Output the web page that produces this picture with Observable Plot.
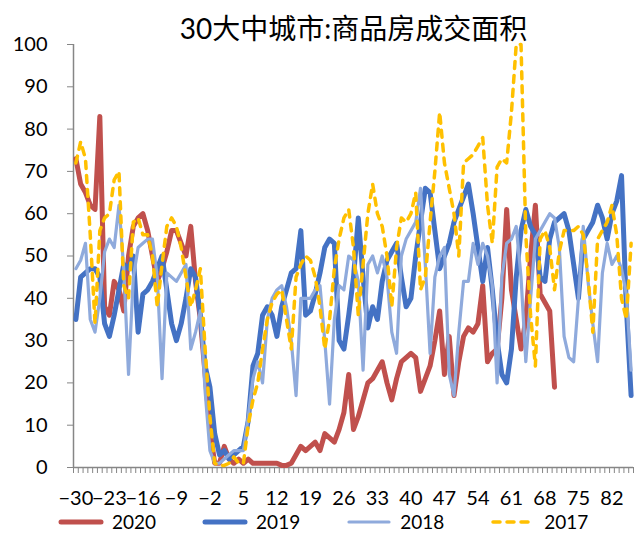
<!DOCTYPE html>
<html>
<head>
<meta charset="utf-8">
<script src="https://cdn.jsdelivr.net/npm/d3@7"></script>
<script src="https://cdn.jsdelivr.net/npm/@observablehq/plot@0.6"></script>
<style>
  body { margin: 0; background: #fff; }
  #wrap { position: relative; width: 634px; height: 533px; font-family: Lato, "Noto Sans CJK SC", sans-serif; color: #000; }
  #title { position: absolute; left: 73px; right: 0; top: 10px; text-align: center; font-size: 28px; line-height: 36px; }
  #legend { position: absolute; left: 58px; top: 509px; height: 25px; display: flex; align-items: center; }
  .item { display: flex; align-items: center; margin-right: 46px; font-size: 19px; }
  .item svg { display: block; }
  .item span { margin-left: 8px; }
</style>
</head>
<body>
<div id="wrap">
  <div id="chart"></div>
  <div id="title">30大中城市:商品房成交面积</div>
  <div id="legend"></div>
</div>
<script>
// Day offsets (categories) and y tick values
const days = [
  -30,-29,-28,-27,-26,-25,-24,-23,-22,-21,-20,-19,-18,-17,-16,-15,-14,-13,-12,-11,
  -10,-9,-8,-7,-6,-5,-4,-3,-2,-1,0,1,2,3,4,5,6,7,8,9,
  10,11,12,13,14,15,16,17,18,19,20,21,22,23,24,25,26,27,28,29,
  30,31,32,33,34,35,36,37,38,39,40,41,42,43,44,45,46,47,48,49,
  50,51,52,53,54,55,56,57,58,59,60,61,62,63,64,65,66,67,68,69,
  70,71,72,73,74,75,76,77,78,79,80,81,82,83,84,85,86
];
const xTickLabels = [-30, -23, -16, -9, -2, 5, 12, 19, 26, 33, 40, 47, 54, 61, 68, 75, 82];
const yTickLabels = [0, 10, 20, 30, 40, 50, 60, 70, 80, 90, 100];

// Transaction area by day, one array per year
const area2020 = [
  73, 67, 65, 62, 61, 83, 38, 36, 44, 42,
  37, 50, 57, 59, 60, 56, 50, 44, 47, 51,
  56, 56, 53, 50, 57, 44, 35, 22, 9, 1,
  1, 5, 2, 1, 2, 1, 2, 1, 1, 1,
  1, 1, 1, 0.5, 0.5, 1, 3, 5, 4, 5,
  6, 4, 8, 7, 6, 9, 13, 22, 9, 12,
  16, 20, 21, 23, 25, 20, 16, 21, 25, 26,
  27, 26, 18, 21, 24, 30, 37, 22, 31, 17,
  25, 31, 33, 32, 34, 43, 25, 27, 28, 40,
  61, 42, 35, 28, 35, 50, 62, 41, 39, 37, 19
];
const area2019 = [
  35, 45, 46, 47, 47, 45, 34, 31, 36, 42,
  48, 47, 50, 32, 41, 42, 44, 47, 50, 42,
  34, 30, 34, 40, 47, 45, 36, 24, 19, 8,
  3, 4, 2, 3, 4, 5, 11, 24, 27, 36,
  38, 36, 31, 38, 42, 46, 47, 56, 36, 37,
  41, 46, 52, 54, 53, 30, 28, 36, 45, 59,
  45, 33, 38, 35, 44, 49, 51, 53, 45, 38,
  40, 50, 58, 66, 65, 56, 47, 50, 53, 58,
  61, 64, 67, 60, 52, 44, 52, 42, 30, 22,
  20, 28, 45, 56, 61, 57, 55, 45, 44, 54,
  58, 59, 60, 56, 48, 40, 54, 56, 58, 62,
  59, 54, 60, 63, 69, 38, 17
];
const area2018 = [
  47, 49, 53, 35, 32, 40, 51, 54, 52, 62,
  47, 22, 45, 52, 53, 54, 54, 45, 21, 46,
  45, 44, 46, 48, 28, 32, 37, 18, 4, 1,
  1, 2, 3, 4, 4, 4, 12, 21, 25, 20,
  35, 40, 42, 43, 38, 30, 17, 40, 40, 40,
  42, 43, 30, 15, 35, 43, 42, 50, 49, 44,
  23, 48, 50, 46, 50, 45, 32, 27, 50, 54,
  56, 58, 66, 48, 27, 45, 50, 52, 22, 17,
  32, 44, 44, 53, 48, 53, 50, 43, 20, 45,
  53, 54, 57, 45, 25, 40, 54, 56, 58, 60,
  59, 52, 31, 26, 25, 40, 57, 44, 34, 25,
  46, 53, 48, 50, 47, 41, 23
];
const area2017 = [
  72, 77, 73, 55, 34, 56, 59, 60, 68, 70,
  43, 40, 58, 59, 55, 55, 50, 38, 48, 57,
  59, 57, 52, 45, 38, 42, 47, 28, 12, 1,
  0.5, 0.5, 1, 2.5, 1, 1, 10, 16, 20, 28,
  35, 39, 41, 42, 35, 28, 45, 48, 50, 49,
  45, 38, 28, 35, 47, 54, 59, 61, 52, 36,
  48, 60, 67, 60, 57, 50, 38, 52, 59, 58,
  60, 65, 42, 45, 58, 70, 84, 72, 66, 60,
  50, 72, 73, 74, 76, 78, 62, 53, 71, 73,
  72, 84, 100, 100, 55, 36, 24, 54, 56, 52,
  42, 51, 56, 56, 56, 57, 55, 45, 32, 54,
  56, 58, 62, 55, 40, 35, 53
];

// Series drawing order: 2020 at the bottom, 2017 on top
const series = [
  {name: "2020", values: area2020, stroke: "#C0504D", width: 5, dash: null},
  {name: "2019", values: area2019, stroke: "#4472C4", width: 5, dash: null},
  {name: "2018", values: area2018, stroke: "#8FAADC", width: 3.2, dash: null},
  {name: "2017", values: area2017, stroke: "#FFC000", width: 3.5, dash: "7,7"}
];

const axisGray = "#868686";
const minorTicks = days.map(d => d - 0.5).concat([days[days.length - 1] + 0.5]);

const lineMarks = series.map(s =>
  Plot.line(s.values.map((v, i) => ({day: days[i], value: v})), {
    x: "day",
    y: "value",
    stroke: s.stroke,
    strokeWidth: s.width,
    strokeDasharray: s.dash,
    strokeLinejoin: "round",
    strokeLinecap: "round"
  })
);

const chart = Plot.plot({
  width: 634,
  height: 510,
  marginTop: 44,
  marginBottom: 43,
  marginLeft: 73,
  marginRight: 1,
  style: {fontFamily: "Lato, 'Noto Sans CJK SC', sans-serif", background: "#fff", color: "#000", overflow: "visible"},
  x: {domain: [-30.5, 86.5], label: null},
  y: {domain: [0, 100], label: null},
  marks: [
    Plot.axisY({ticks: yTickLabels, tickSize: 6, tickPadding: 20, fontSize: 20, stroke: axisGray, label: null}),
    Plot.axisX({ticks: minorTicks, tickSize: 6, tickFormat: () => "", stroke: axisGray, label: null}),
    Plot.axisX({ticks: xTickLabels, tickSize: 0, tickPadding: 23, fontSize: 20, label: null}),
    Plot.ruleX([-30.5], {stroke: axisGray, strokeWidth: 1.5}),
    Plot.ruleY([0], {stroke: axisGray, strokeWidth: 1.5}),
    ...lineMarks
  ]
});
document.getElementById("chart").append(chart);

// Legend below the plot
const legend = d3.select("#legend");
for (const s of series) {
  const item = legend.append("div").attr("class", "item");
  const sw = item.append("svg").attr("width", 46).attr("height", 12);
  sw.append("line")
    .attr("x1", 3).attr("x2", 43).attr("y1", 6).attr("y2", 6)
    .attr("stroke", s.stroke)
    .attr("stroke-width", s.width)
    .attr("stroke-linecap", "round")
    .attr("stroke-dasharray", s.dash);
  item.append("span").text(s.name);
}
</script>
</body>
</html>
